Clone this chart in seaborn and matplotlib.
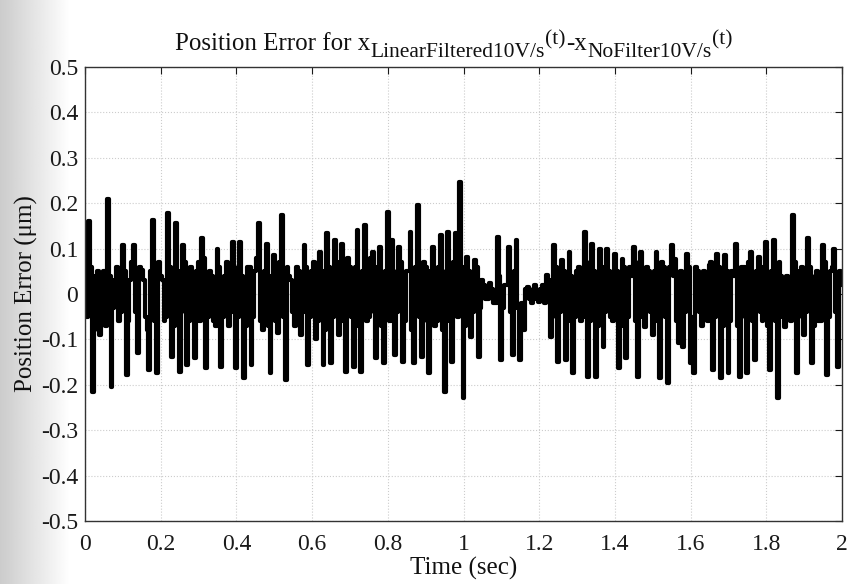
import numpy as np
import pandas as pd
import matplotlib
matplotlib.use("Agg")
import matplotlib.pyplot as plt
from matplotlib.transforms import IdentityTransform
import seaborn as sns

# ---- data ----
# main samples every 0.01 s (spike extremes)
sample_dt = 0.01
position_error_um = [
    0.03, 0.16, -0.215, 0.04, -0.09, 0.05, 0.21, -0.204, 0.03, -0.06,
    0.108, -0.178, 0.03, 0.108, -0.13, 0.053, -0.05, -0.167, 0.163, -0.174,
    0.04, -0.06, 0.179, -0.138, 0.157, -0.171, 0.108, -0.156, 0.06, -0.14,
    0.07, 0.123, -0.164, 0.05, -0.06, 0.10, -0.16, 0.04, -0.07, 0.115,
    -0.164, 0.115, -0.186, 0.06, -0.156, 0.05, 0.157, -0.08, 0.11, -0.174,
    0.086, -0.087, 0.174, -0.189, 0.04, -0.04, 0.06, -0.09, 0.108, -0.156,
    0.05, -0.10, 0.093, -0.156, 0.134, -0.153, 0.119, -0.09, 0.111, -0.171,
    0.06, -0.16, 0.141, -0.171, 0.152, -0.05, 0.093, -0.142, 0.104, -0.153,
    0.181, 0.119, -0.134, 0.104, -0.149, 0.05, 0.137, -0.153, 0.196, -0.138,
    0.06, -0.174, 0.104, -0.06, 0.13, -0.215, 0.137, -0.149, 0.134, 0.247,
    -0.23, 0.082, -0.094, 0.075, -0.138, 0.03, -0.01, 0.024, -0.02, 0.126,
    -0.145, 0.02, 0.104, -0.134, 0.119, -0.145, -0.079, 0.016, -0.02, 0.02,
    -0.017, 0.02, 0.042, -0.094, 0.108, -0.149, 0.075, -0.145, 0.093, -0.175,
    0.05, -0.06, 0.137, -0.182, 0.111, -0.182, 0.10, -0.116, 0.10, -0.05,
    0.089, -0.164, 0.078, -0.142, 0.06, 0.104, -0.182, 0.093, -0.072, 0.05,
    -0.09, 0.093, -0.186, 0.06, -0.197, 0.108, 0.078, -0.108, -0.116, 0.089,
    -0.153, -0.175, 0.05, -0.07, 0.04, 0.064, -0.167, 0.089, -0.186, 0.086,
    -0.175, 0.05, 0.111, -0.182, 0.06, -0.175, 0.093, -0.145, 0.082, -0.06,
    0.115, -0.167, 0.119, -0.23, 0.04, -0.072, 0.038, 0.174, -0.175, 0.05,
    -0.09, 0.123, -0.153, 0.04, -0.06, 0.108, -0.178, 0.05, 0.10, -0.16,
    0.02,
]
# in-between samples (dense band around zero), one between each pair above
between_error_um = [
    -0.05, 0.06, -0.08, 0.05, 0.02, -0.07, 0.04, -0.03, 0.06, -0.04,
    0.05, -0.06, 0.07, -0.04, 0.06, 0.03, -0.08, 0.05, -0.06, 0.07,
    0.03, -0.05, 0.06, -0.07, 0.05, -0.04, 0.07, -0.06, 0.04, 0.05,
    -0.06, 0.08, -0.05, 0.04, -0.07, 0.06, -0.05, 0.07, -0.04, 0.06,
    -0.05, 0.04, -0.07, 0.06, -0.05, 0.08, -0.06, 0.05, -0.07, 0.04,
    -0.06, 0.07, -0.05, 0.06, 0.03, -0.07, 0.05, -0.04, 0.06, -0.05,
    0.07, -0.06, 0.05, -0.08, 0.06, -0.05, 0.07, 0.04, -0.06, 0.08,
    -0.05, 0.06, -0.07, 0.05, -0.06, 0.08, -0.04, 0.06, -0.07, 0.05,
    -0.06, 0.05, -0.04, 0.07, -0.06, 0.05, -0.08, 0.06, -0.05, 0.07,
    -0.06, 0.05, -0.07, 0.06, -0.08, 0.05, -0.06, 0.07, -0.05, 0.06,
    -0.07, 0.05, -0.04, 0.06, -0.03, 0.02, -0.01, 0.01, -0.02, 0.04,
    -0.03, 0.02, -0.04, 0.05, -0.03, -0.02, 0.01, -0.01, 0.01, -0.01,
    0.01, -0.02, 0.03, -0.05, 0.06, -0.04, 0.05, -0.06, 0.04, -0.05,
    0.06, -0.05, 0.07, -0.06, 0.05, -0.07, 0.06, -0.04, 0.05, -0.06,
    0.05, -0.07, 0.06, -0.05, 0.04, -0.06, 0.07, -0.05, 0.06, -0.04,
    0.05, -0.06, 0.07, -0.05, 0.06, 0.04, -0.06, 0.05, -0.04, 0.06,
    -0.05, 0.06, -0.04, 0.05, -0.06, 0.07, -0.05, 0.06, -0.07, 0.05,
    -0.06, 0.04, -0.07, 0.06, -0.05, 0.07, -0.06, 0.05, -0.04, 0.06,
    -0.07, 0.05, -0.06, 0.07, -0.05, 0.04, -0.06, 0.07, -0.05, 0.06,
    -0.04, 0.06, -0.07, 0.05, -0.06, 0.07, -0.05, 0.06, -0.04, 0.05,
]

x_ticks = [0, 0.2, 0.4, 0.6, 0.8, 1, 1.2, 1.4, 1.6, 1.8, 2]
x_tick_labels = ["0", "0.2", "0.4", "0.6", "0.8", "1", "1.2", "1.4", "1.6", "1.8", "2"]
y_ticks = [0.5, 0.4, 0.3, 0.2, 0.1, 0, -0.1, -0.2, -0.3, -0.4, -0.5]
y_tick_labels = ["0.5", "0.4", "0.3", "0.2", "0.1", "0", "-0.1", "-0.2", "-0.3", "-0.4", "-0.5"]

# title pieces: (text, role) where role is main / sub / sup
title_pieces = [
    ("Position Error for x", "main"),
    ("LinearFiltered10V/s", "sub"),
    ("(t)", "sup"),
    ("-x", "main"),
    ("NoFilter10V/s", "sub"),
    ("(t)", "sup"),
]

# interleave the two sample sets on a half-step time grid
values = []
for i, v in enumerate(position_error_um):
    values.append(v)
    if i < len(between_error_um):
        values.append(between_error_um[i])
time_s = np.arange(len(values)) * (sample_dt / 2)
df = pd.DataFrame({"t": time_s, "err": values})

sns.set_theme(style="white")
plt.rcParams["font.family"] = ["Liberation Serif", "DejaVu Serif"]

W, H = 847, 584
fig = plt.figure(figsize=(W / 100, H / 100), dpi=100)

# faint scan shading on the left edge
bg = fig.add_axes([0, 0, 1, 1], zorder=-10)
grad = np.concatenate([np.linspace(0.80, 1.0, 70), np.ones(777)])
bg.imshow(np.tile(grad, (10, 1)), cmap="gray", vmin=0, vmax=1, aspect="auto",
          extent=[0, 1, 0, 1])
bg.set_axis_off()

ax = fig.add_axes([85 / W, 1 - 521 / H, (842 - 85) / W, (521 - 67) / H])
ax.set_facecolor("white")

sns.lineplot(data=df, x="t", y="err", ax=ax, color="black", linewidth=3.0,
             estimator=None, legend=False, drawstyle="steps-mid")

ax.set_xlim(0, 2)
ax.set_ylim(-0.5, 0.5)
ax.set_xticks(x_ticks)
ax.set_xticklabels(x_tick_labels)
ax.set_yticks(y_ticks)
ax.set_yticklabels(y_tick_labels)
ax.tick_params(direction="in", length=5, width=0.8, top=True, right=True,
               labelsize=17, colors="#1a1a1a", pad=5)
ax.tick_params(axis="x", pad=9)
ax.grid(True, linestyle=":", color="#cccccc", linewidth=0.8)
for s in ax.spines.values():
    s.set_color("#333333")
    s.set_linewidth(1.0)

ax.set_xlabel("Time (sec)", fontsize=18, labelpad=2, color="#111111")
ax.set_ylabel("Position Error (\u03bcm)", fontsize=18, labelpad=2, color="#111111")

# title assembled from pieces (MATLAB-style large sub/superscripts)
role_style = {"main": (18, 0), "sub": (15.5, -7), "sup": (15.5, 6)}
renderer = fig.canvas.get_renderer()
base_y = H - 50
objs = []
x = 0.0
for txt, role in title_pieces:
    size, dy = role_style[role]
    t = fig.text(x, base_y + dy, txt, fontsize=size, color="#111111",
                 ha="left", va="baseline", transform=IdentityTransform())
    w = t.get_window_extent(renderer).width
    objs.append((t, x, dy))
    x += w + 0.5
shift = 454 - x / 2
for t, x0, dy in objs:
    t.set_position((x0 + shift, base_y + dy))

fig.savefig("out.png", dpi=100)
